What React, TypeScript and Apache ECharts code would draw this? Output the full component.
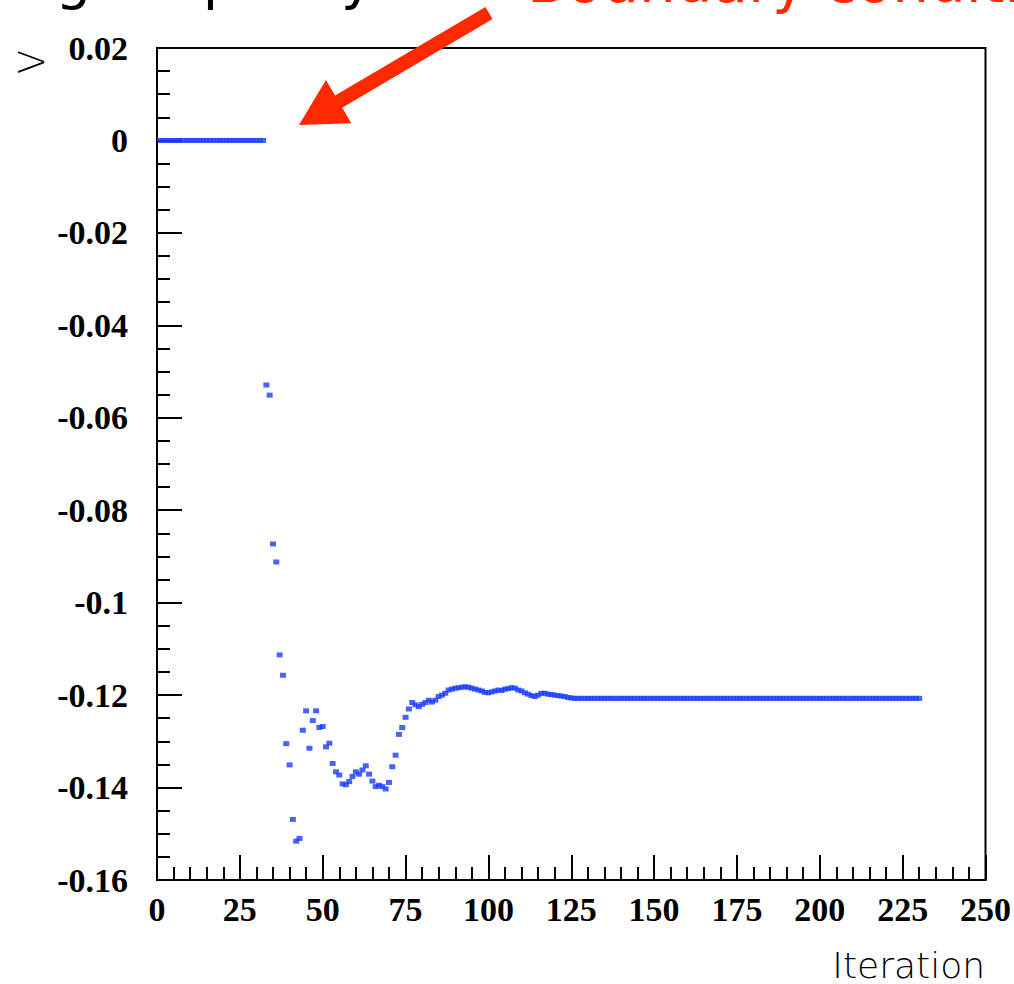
import React, { useEffect, useRef } from "react";
import * as echarts from "echarts";

// Iterations 1..32: solution held at the initial value
const initialPhase: number[] = [
  0, 0, 0, 0, 0, 0, 0, 0, 0, 0, 0, 0, 0, 0, 0, 0,
  0, 0, 0, 0, 0, 0, 0, 0, 0, 0, 0, 0, 0, 0, 0, 0,
];

// Iterations 33..125: transient after boundary conditions applied
const transientPhase: number[] = [
  -0.0529, -0.0551, -0.0873, -0.0912, -0.1113, -0.1157, -0.1305, -0.1351, -0.1469, -0.1516,
  -0.1510, -0.1276, -0.1234, -0.1315, -0.1255, -0.1234, -0.1270, -0.1268, -0.1312, -0.1304,
  -0.1348, -0.1366, -0.1373, -0.1392, -0.1394, -0.1387, -0.1376, -0.1366, -0.1371, -0.1362,
  -0.1353, -0.1371, -0.1386, -0.1398, -0.1395, -0.1398, -0.1403, -0.1389, -0.1355, -0.1330,
  -0.1285, -0.1270, -0.1248, -0.1230, -0.1216, -0.1221, -0.1225, -0.1220, -0.1216, -0.1211,
  -0.1215, -0.1211, -0.1203, -0.1200, -0.1196, -0.1189, -0.1187, -0.1185, -0.1184, -0.1183,
  -0.1182, -0.1183, -0.1185, -0.1187, -0.1189, -0.1191, -0.1194, -0.1195, -0.1193, -0.1191,
  -0.1189, -0.1190, -0.1187, -0.1186, -0.1184, -0.1185, -0.1189, -0.1191, -0.1195, -0.1198,
  -0.1201, -0.1203, -0.1200, -0.1196, -0.1196, -0.1198, -0.1199, -0.1200, -0.1201, -0.1202,
  -0.1203, -0.1205, -0.1206,
];

// Iterations 126..230: converged plateau
const convergedPhase: number[] = [
  -0.1207, -0.1207, -0.1207, -0.1207, -0.1207, -0.1207, -0.1207, -0.1207, -0.1207, -0.1207, -0.1207, -0.1207, -0.1207, -0.1207, -0.1207,
  -0.1207, -0.1207, -0.1207, -0.1207, -0.1207, -0.1207, -0.1207, -0.1207, -0.1207, -0.1207, -0.1207, -0.1207, -0.1207, -0.1207, -0.1207,
  -0.1207, -0.1207, -0.1207, -0.1207, -0.1207, -0.1207, -0.1207, -0.1207, -0.1207, -0.1207, -0.1207, -0.1207, -0.1207, -0.1207, -0.1207,
  -0.1207, -0.1207, -0.1207, -0.1207, -0.1207, -0.1207, -0.1207, -0.1207, -0.1207, -0.1207, -0.1207, -0.1207, -0.1207, -0.1207, -0.1207,
  -0.1207, -0.1207, -0.1207, -0.1207, -0.1207, -0.1207, -0.1207, -0.1207, -0.1207, -0.1207, -0.1207, -0.1207, -0.1207, -0.1207, -0.1207,
  -0.1207, -0.1207, -0.1207, -0.1207, -0.1207, -0.1207, -0.1207, -0.1207, -0.1207, -0.1207, -0.1207, -0.1207, -0.1207, -0.1207, -0.1207,
  -0.1207, -0.1207, -0.1207, -0.1207, -0.1207, -0.1207, -0.1207, -0.1207, -0.1207, -0.1207, -0.1207, -0.1207, -0.1207, -0.1207, -0.1207,
];

const FIRST_ITERATION = 1;
const X_AXIS_TITLE = "Iteration";
const Y_AXIS_TITLE = "V";
const TITLE_LEFT = "Checking \u2014 quality";
const TITLE_RIGHT = "Boundary conditions";

function arrowPoints(tail: number[], tip: number[], shaftHalf: number, headLen: number, headHalf: number) {
  const dx = tip[0] - tail[0];
  const dy = tip[1] - tail[1];
  const len = Math.hypot(dx, dy);
  const ux = dx / len, uy = dy / len;
  const nx = -uy, ny = ux;
  const bx = tip[0] - ux * headLen, by = tip[1] - uy * headLen;
  return [
    [tail[0] + nx * shaftHalf, tail[1] + ny * shaftHalf],
    [bx + nx * shaftHalf, by + ny * shaftHalf],
    [bx + nx * headHalf, by + ny * headHalf],
    [tip[0], tip[1]],
    [bx - nx * headHalf, by - ny * headHalf],
    [bx - nx * shaftHalf, by - ny * shaftHalf],
    [tail[0] - nx * shaftHalf, tail[1] - ny * shaftHalf],
  ];
}

export default function App() {
  const ref = useRef<HTMLDivElement>(null);

  useEffect(() => {
    if (!ref.current) return;
    const chart = echarts.init(ref.current, null, { renderer: "svg" });
    const values = [...initialPhase, ...transientPhase, ...convergedPhase];
    const data = values.map((v, i) => [FIRST_ITERATION + i, v]);

    const tickFont = {
      color: "#000",
      fontFamily: "Liberation Serif",
      fontWeight: "bold" as const,
      fontSize: 34,
    };

    const option: any = {
      animation: false,
      backgroundColor: "#ffffff",
      grid: {
        left: 157,
        right: 27,
        top: 48,
        bottom: 104,
        show: true,
        borderColor: "#000",
        borderWidth: 2,
        backgroundColor: "transparent",
      },
      xAxis: {
        type: "value",
        min: 0,
        max: 250,
        interval: 25,
        axisLine: { show: true, onZero: false, lineStyle: { color: "#000", width: 2 } },
        axisTick: { show: true, inside: true, length: 25, lineStyle: { color: "#000", width: 2 } },
        minorTick: { show: true, splitNumber: 5, length: 13, lineStyle: { color: "#000", width: 2 } },
        splitLine: { show: false },
        minorSplitLine: { show: false },
        axisLabel: { ...tickFont, margin: 12 },
      },
      yAxis: {
        type: "value",
        min: -0.16,
        max: 0.02,
        interval: 0.02,
        axisLine: { show: true, onZero: false, lineStyle: { color: "#000", width: 2 } },
        axisTick: { show: true, inside: true, length: 25, lineStyle: { color: "#000", width: 2 } },
        minorTick: { show: true, splitNumber: 4, length: 13, lineStyle: { color: "#000", width: 2 } },
        splitLine: { show: false },
        minorSplitLine: { show: false },
        axisLabel: {
          ...tickFont,
          margin: 29,
          formatter: (v: number) => String(Math.round(v * 100) / 100),
        },
      },
      series: [
        {
          type: "scatter",
          data,
          symbol: "rect",
          symbolSize: [6, 5],
          itemStyle: { color: "#1a3cff" },
        },
      ],
      graphic: [
        {
          type: "text",
          x: 91,
          y: -22,
          style: {
            text: TITLE_LEFT,
            fill: "#000",
            fontSize: 56,
            fontFamily: "DejaVu Sans",
            align: "left",
            verticalAlign: "middle",
            textAlign: "left",
            textVerticalAlign: "middle",
          },
          // shift so that the end of the first word sits at x = 91
          left: undefined,
        },
        {
          type: "text",
          x: 527,
          y: -18,
          style: {
            text: TITLE_RIGHT,
            fill: "#ff2800",
            fontSize: 58,
            fontFamily: "DejaVu Sans",
            align: "left",
            verticalAlign: "middle",
            textAlign: "left",
            textVerticalAlign: "middle",
          },
        },
        {
          type: "polygon",
          shape: { points: arrowPoints([489, 13], [299, 125], 7, 46, 25) },
          style: { fill: "#ff2800" },
        },
        {
          type: "text",
          x: 985,
          y: 965,
          style: {
            text: X_AXIS_TITLE,
            fill: "#000",
            fontSize: 36,
            fontFamily: "DejaVu Sans",
            fontWeight: 300,
            align: "right",
            verticalAlign: "middle",
            textAlign: "right",
            textVerticalAlign: "middle",
          },
        },
        {
          type: "text",
          x: 32,
          y: 62,
          rotation: Math.PI / 2,
          style: {
            text: Y_AXIS_TITLE,
            fill: "#000",
            fontSize: 35,
            fontFamily: "DejaVu Sans",
            fontWeight: 300,
            align: "center",
            verticalAlign: "middle",
            textAlign: "center",
            textVerticalAlign: "middle",
          },
        },
      ],
    };

    // place the left title so that its first word ends at x = 91
    const measure = echarts.format.getTextRect
      ? (echarts.format as any).getTextRect("Checking", "56px DejaVu Sans").width
      : 259;
    option.graphic[0].x = 91 - (measure || 259);

    chart.setOption(option);
    return () => chart.dispose();
  }, []);

  return (
    <div
      ref={ref}
      style={{ position: "absolute", left: 0, top: 0, width: 1014, height: 984 }}
    />
  );
}
